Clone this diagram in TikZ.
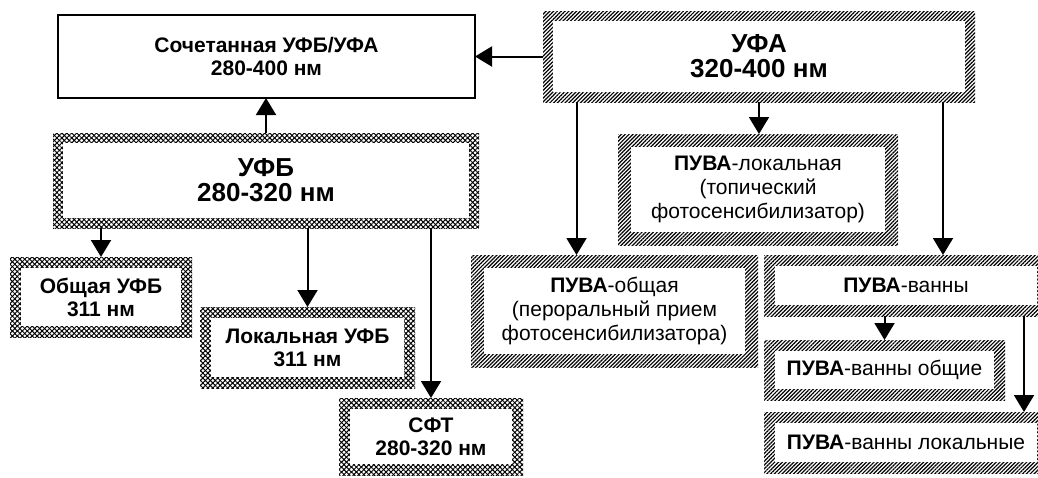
\documentclass[tikz,border=0pt]{standalone}
\usepackage{fontspec}
\setmainfont{Liberation Sans}
\usepackage{tikz}
\usetikzlibrary{arrows.meta, patterns.meta, positioning}

\begin{document}
\begin{tikzpicture}[
            x=1pt, y=-1pt,
            every node/.style={inner sep=0pt, outer sep=0pt, align=center},
            plainbox/.style={
                rectangle,
                draw,
                line width=2pt,
                fill=white
            },
            inset/.style={
                path picture={\fill[white]
                    ([shift={(#1,-#1)}]path picture bounding box.north west) rectangle
                    ([shift={(-#1,#1)}]path picture bounding box.south east);}
            },
            lined/.style={
                rectangle,
                pattern={Lines[angle=45,distance=2.7pt,line width=1.2pt]},
                inset=#1
            },
            crossed/.style={
                rectangle,
                preaction={pattern={Lines[angle=45,distance=3.5pt,line width=1pt]}},
                pattern={Lines[angle=-45,distance=3.5pt,line width=1pt]},
                inset=#1
            },
            textbig/.style={font=\fontsize{26}{25}\selectfont\bfseries},
            textbold/.style={font=\fontsize{21}{23}\selectfont\bfseries},
            textreg/.style={font=\fontsize{21}{24}\selectfont},
            arrow/.style={-{Triangle[length=17pt,width=20pt]}, line width=2pt}
        ]
        \useasboundingbox (0,0) rectangle (1038,477);
        \clip (0,0) rectangle (1038,477);

        % Nodes
        \node[plainbox, textbold, minimum width=417pt, minimum height=83pt] (comb) at (266.5,56.5) {Сочетанная УФБ/УФА\\280-400 нм};
        \node[lined=10pt, textbig, minimum width=432pt, minimum height=91pt] (uva) at (759,56.5) {УФА\\320-400 нм};
        \node[crossed=10pt, textbig, minimum width=426pt, minimum height=95pt] (ufb) at (266,180.5) {УФБ\\280-320 нм};
        \node[lined=13pt, textreg, minimum width=280pt, minimum height=111pt] (lpuva) at (758,189.5) {\textbf{ПУВА}-локальная\\(топический\\фотосенсибилизатор)};
        \node[lined=13pt, textreg, minimum width=287pt, minimum height=112pt] (gpuva) at (614.5,311) {\textbf{ПУВА}-общая\\(пероральный прием\\фотосенсибилизатора)};
        \node[lined=11pt, textreg, minimum width=284pt, minimum height=61pt] (bpuva) at (906,285.5) {\textbf{ПУВА}-ванны};
        \node[lined=11pt, textreg, minimum width=241pt, minimum height=60pt] (bgpuva) at (884.5,370) {\textbf{ПУВА}-ванны общие};
        \node[lined=11pt, textreg, minimum width=284pt, minimum height=61pt] (blpuva) at (906,442.5) {\textbf{ПУВА}-ванны локальные};
        \node[crossed=11pt, textbold, minimum width=182pt, minimum height=80pt] (gufb) at (101,297) {Общая УФБ\\311 нм};
        \node[crossed=11pt, textbold, minimum width=215pt, minimum height=81pt] (lufb) at (307.5,347.5) {Локальная УФБ\\311 нм};
        \node[crossed=11pt, textbold, minimum width=184pt, minimum height=77pt] (sft) at (431,436.5) {СФТ\\280-320 нм};

        % Arrows
        \draw[arrow] (uva.west) -- (comb.east);
        \draw[arrow] (ufb.north) -- (ufb.north |- comb.south);
        \draw[arrow] (uva.south) -- (uva.south |- lpuva.north);
        \draw[arrow] ([xshift=-38pt]gpuva.north |- uva.south) -- ([xshift=-38pt]gpuva.north);
        \draw[arrow] ([xshift=37pt]bpuva.north |- uva.south) -- ([xshift=37pt]bpuva.north);
        \draw[arrow] (gufb.north |- ufb.south) -- (gufb.north);
        \draw[arrow] (lufb.north |- ufb.south) -- (lufb.north);
        \draw[arrow] (sft.north |- ufb.south) -- (sft.north);
        \draw[arrow] (bgpuva.north |- bpuva.south) -- (bgpuva.north);
        \draw[arrow] ([xshift=118pt]blpuva.north |- bpuva.south) -- ([xshift=118pt]blpuva.north);

        \end{tikzpicture}
\end{document}
